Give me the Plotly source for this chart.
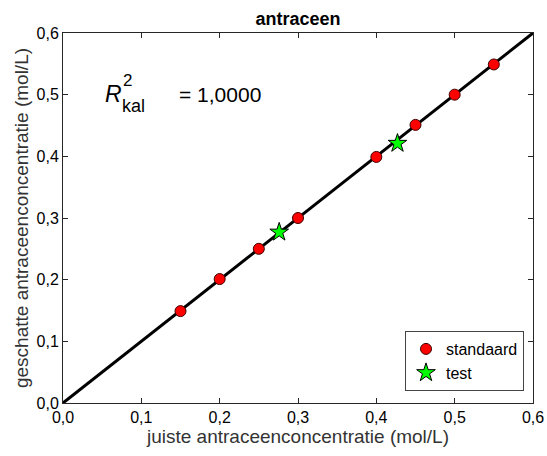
import plotly.graph_objects as go

std_x = [0.15, 0.20, 0.25, 0.30, 0.40, 0.45, 0.50, 0.55]
std_y = [0.149, 0.201, 0.250, 0.300, 0.399, 0.451, 0.500, 0.549]
test_x = [0.276, 0.427]
test_y = [0.277, 0.421]
line_x = [0.0, 0.6]
line_y = [0.0, 0.6]
tick_vals = [0.0, 0.1, 0.2, 0.3, 0.4, 0.5, 0.6]
tick_text = ["0,0", "0,1", "0,2", "0,3", "0,4", "0,5", "0,6"]

FONT = "Liberation Sans, Arial, sans-serif"
W, H = 547, 456
L, R, T, B = 63, 14, 33, 53
PW, PH = W - L - R, H - T - B


def px(x):
    return (x - L) / PW


def py(y):
    return (H - B - y) / PH


fig = go.Figure()
fig.add_trace(go.Scatter(x=line_x, y=line_y, mode="lines",
                         line=dict(color="black", width=3), showlegend=False, hoverinfo="skip"))
fig.add_trace(go.Scatter(x=std_x, y=std_y, mode="markers", name="standaard",
                         marker=dict(symbol="circle", size=11, color="#ff0000",
                                     line=dict(color="#400000", width=1))))
fig.add_trace(go.Scatter(x=test_x, y=test_y, mode="markers", name="test",
                         marker=dict(symbol="star", size=14, color="#00ff00",
                                     line=dict(color="black", width=1))))

axis_common = dict(range=[0, 0.6], tickvals=tick_vals, ticktext=tick_text,
                   ticks="inside", ticklen=5, tickcolor="#262626", showline=True,
                   linecolor="#262626", linewidth=1, mirror="ticks", showgrid=False,
                   zeroline=False, tickfont=dict(size=16, color="black", family=FONT))

fig.update_xaxes(**axis_common, title=dict(text="juiste antraceenconcentratie (mol/L)",
                                           font=dict(size=19, color="#333", family=FONT), standoff=3))
fig.update_yaxes(**axis_common, title=dict(text="geschatte antraceenconcentratie (mol/L)",
                                           font=dict(size=19, color="#333", family=FONT), standoff=2))

ann = [
    (103, 94, "<i>R</i>", 23, "left"),
    (121, 80, "2", 17, "left"),
    (120, 106, "kal", 18, "left"),
    (177, 94, "= 1,0000", 21, "left"),
]
for x, y, t, s, xa in ann:
    fig.add_annotation(x=px(x), y=py(y), xref="paper", yref="paper", xanchor=xa,
                       yanchor="middle", text=t, showarrow=False,
                       font=dict(size=s, family=FONT, color="black"))

fig.update_layout(
    width=W, height=H,
    margin=dict(l=L, r=R, t=T, b=B, autoexpand=False),
    paper_bgcolor="white", plot_bgcolor="white",
    title=dict(text="<b>antraceen</b>", x=(L + W - R) / 2 / W, xanchor="center",
               y=1 - 19 / H, yanchor="middle", font=dict(size=18, family=FONT, color="black")),
    legend=dict(x=px(524), y=py(391), xanchor="right", yanchor="bottom",
                bordercolor="#444", borderwidth=1, bgcolor="white",
                font=dict(size=16, family=FONT, color="black"), itemwidth=30,
                tracegroupgap=0),
    font=dict(family=FONT),
)

fig.write_html("out.html")
